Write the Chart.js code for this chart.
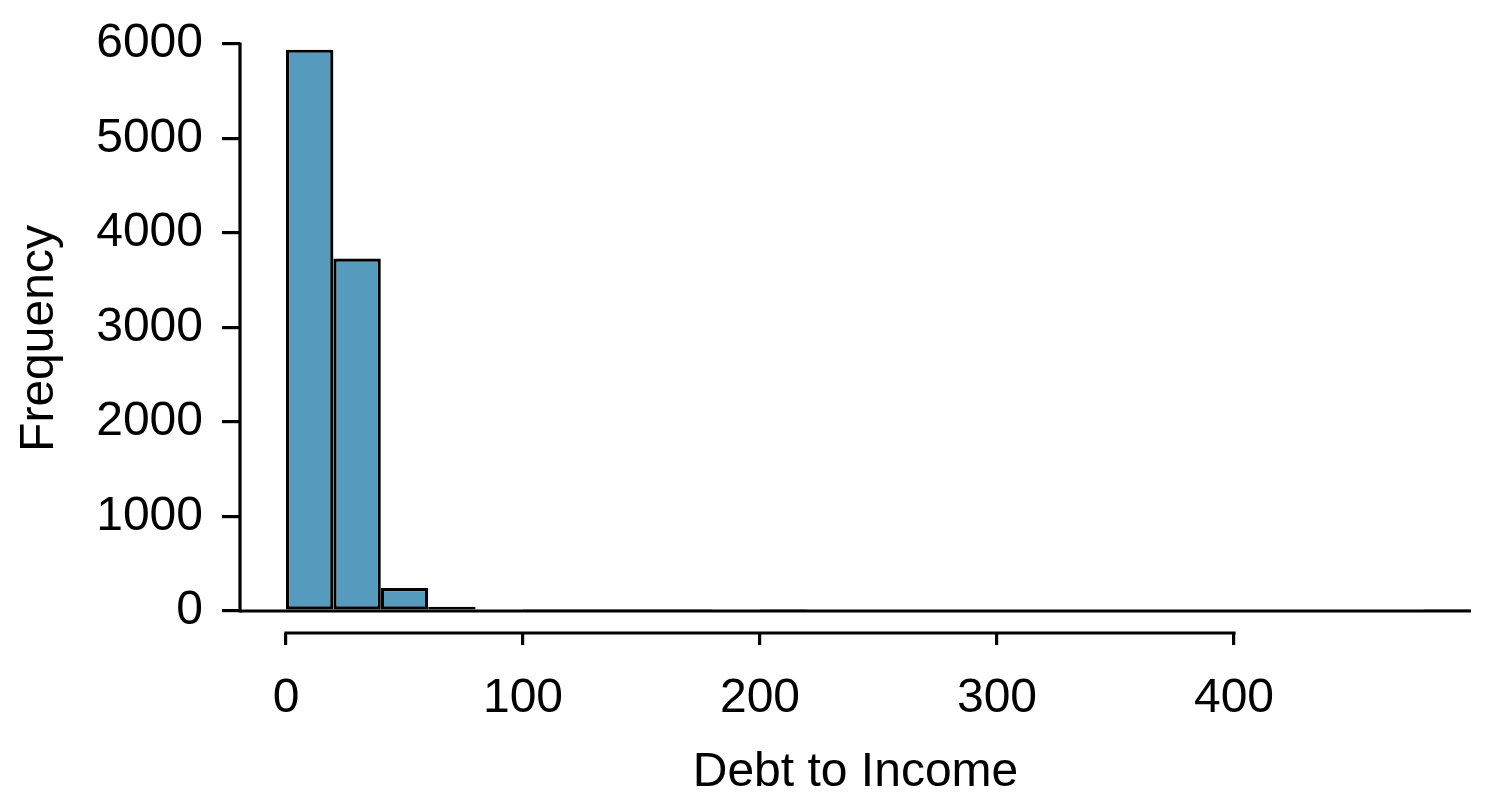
<!DOCTYPE html>
<html>
<head>
<meta charset="utf-8">
<script src="https://cdn.jsdelivr.net/npm/chart.js@4/dist/chart.umd.min.js"></script>
<style>
  html, body { margin: 0; padding: 0; background: #fff; }
  #wrap { width: 1500px; height: 809px; }
</style>
</head>
<body>
<div id="wrap"><canvas id="c" width="1500" height="809"></canvas></div>
<script>
// Histogram bins (width 20) of Debt to Income
const binStarts = [0, 20, 40, 60, 80, 100, 120, 140, 160, 180, 200, 220, 240, 260, 280, 300, 320, 340, 360, 380, 400, 420, 440, 460, 480];
const binWidth = 20;
const frequencies = [5940, 3730, 244, 46, 16, 6, 2, 1, 1, 0, 1, 0, 0, 0, 0, 0, 0, 0, 0, 0, 0, 0, 0, 0, 1];
const xTicks = [0, 100, 200, 300, 400];
const yTicks = [0, 1000, 2000, 3000, 4000, 5000, 6000];
const xLabel = 'Debt to Income';
const yLabel = 'Frequency';

const FONT = 'Liberation Sans, Arial, Helvetica, sans-serif';
const LW = 3.2;

const points = binStarts.map((s, i) => ({ x: s + binWidth / 2, y: frequencies[i] }));

const axisLines = {
  id: 'axisLines',
  afterDatasetsDraw(chart) {
    const { ctx, chartArea, scales } = chart;
    const xs = scales.x, ys = scales.y;
    ctx.save();
    ctx.strokeStyle = '#000';
    ctx.lineWidth = LW;
    ctx.lineCap = 'butt';
    // baseline at y = 0
    const y0 = ys.getPixelForValue(0);
    ctx.beginPath();
    ctx.moveTo(chartArea.left, y0);
    ctx.lineTo(xs.getPixelForValue(binStarts[binStarts.length - 1] + binWidth), y0);
    ctx.stroke();
    // y axis line
    ctx.beginPath();
    ctx.moveTo(chartArea.left, ys.getPixelForValue(yTicks[0]) + LW / 2);
    ctx.lineTo(chartArea.left, ys.getPixelForValue(yTicks[yTicks.length - 1]) - LW / 2);
    ctx.stroke();
    // x axis line
    ctx.beginPath();
    ctx.moveTo(xs.getPixelForValue(xTicks[0]) - LW / 2, chartArea.bottom);
    ctx.lineTo(xs.getPixelForValue(xTicks[xTicks.length - 1]) + LW / 2, chartArea.bottom);
    ctx.stroke();
    ctx.restore();
  }
};

new Chart(document.getElementById('c'), {
  type: 'bar',
  data: {
    datasets: [{
      data: points,
      backgroundColor: '#569BBD',
      borderColor: '#000',
      borderWidth: LW,
      borderSkipped: false,
      inflateAmount: 0,
      barPercentage: 1,
      categoryPercentage: 1
    }]
  },
  options: {
    responsive: false,
    animation: false,
    events: [],
    layout: { padding: { left: 0, right: 29, top: 44, bottom: 0 } },
    plugins: { legend: { display: false }, tooltip: { enabled: false }, title: { display: false } },
    scales: {
      x: {
        type: 'linear',
        offset: false,
        min: -19.41,
        max: 500,
        afterBuildTicks(scale) { scale.ticks = xTicks.map(v => ({ value: v })); },
        afterFit(scale) { scale.height = 809 - 633; scale.paddingLeft = 0; scale.paddingRight = 0; },
        border: { display: false },
        grid: { offset: false, drawOnChartArea: false, drawTicks: true, tickLength: 12, color: '#000', lineWidth: LW },
        ticks: { color: '#000', font: { family: FONT, size: 48 }, padding: 25, maxRotation: 0, autoSkip: false,
                 callback: v => String(v) },
        title: { display: true, text: xLabel, color: '#000', font: { family: FONT, size: 48 }, padding: { top: 0, bottom: 7 } }
      },
      y: {
        type: 'linear',
        min: -232.8,
        max: 6000,
        afterBuildTicks(scale) { scale.ticks = yTicks.map(v => ({ value: v })); },
        afterFit(scale) { scale.width = 240; scale.paddingTop = 0; scale.paddingBottom = 0; },
        border: { display: false },
        grid: { drawOnChartArea: false, drawTicks: true, tickLength: 18, color: '#000', lineWidth: LW },
        ticks: { color: '#000', font: { family: FONT, size: 48 }, padding: 19, autoSkip: false,
                 callback: v => String(v) },
        title: { display: true, text: yLabel, color: '#000', font: { family: FONT, size: 48 }, padding: { top: 11, bottom: 0 } }
      }
    }
  },
  plugins: [axisLines]
});
</script>
</body>
</html>
